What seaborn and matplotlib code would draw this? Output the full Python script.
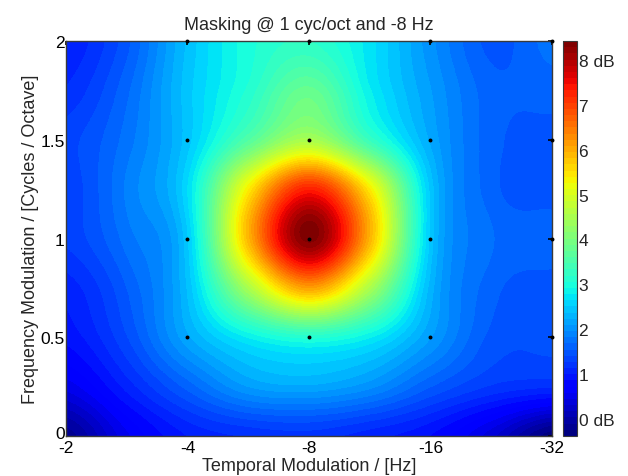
import numpy as np
import pandas as pd
import matplotlib
matplotlib.use('Agg')
import matplotlib.pyplot as plt
import matplotlib.transforms as mtransforms
import seaborn as sns

# Grid of the masking surface
temporal_hz = [-2, -2.83, -4, -5.66, -8, -11.3, -16, -22.6, -32]
freq_cyc = [0, 0.25, 0.5, 0.75, 1, 1.25, 1.5, 1.75, 2]

# masking in dB, one row per freq_cyc value (bottom row first)
masking_db = [
    [-0.2, 0.55, 1.0, 1.15, 1.2, 1.05, 0.85, 0.35, -0.35],
    [0.5, 1.05, 1.6, 2.1, 2.2, 2.0, 1.55, 1.25, 1.15],
    [0.9, 1.4, 2.2, 2.8, 3.1, 2.8, 2.1, 1.5, 1.45],
    [1.05, 1.55, 2.4, 4.5, 6.1, 4.5, 2.3, 1.6, 1.5],
    [1.3, 1.75, 2.5, 5.9, 8.35, 5.9, 2.45, 1.7, 1.6],
    [1.3, 1.85, 2.65, 5.4, 7.3, 5.4, 2.45, 1.6, 1.5],
    [1.35, 1.75, 2.45, 3.6, 4.5, 3.3, 2.2, 1.6, 1.5],
    [1.15, 1.65, 2.45, 3.1, 3.8, 2.8, 2.1, 1.6, 1.6],
    [1.0, 1.5, 2.4, 3.0, 3.2, 2.7, 2.0, 1.5, 1.75],
]

# measured conditions (black dots)
dot_hz = [-4, -8, -16, -32]
dot_cyc = [0.5, 1, 1.5, 2]

tick_hz = [-2, -4, -8, -16, -32]
tick_cyc = [0, 0.5, 1, 1.5, 2]
cbar_ticks = [0, 1, 2, 3, 4, 5, 6, 7, 8]
cbar_labels = ['0 dB', '1', '2', '3', '4', '5', '6', '7', '8 dB']

sns.set_style('white')
plt.rcParams['font.family'] = ['Liberation Sans', 'DejaVu Sans']

fig = plt.figure(figsize=(6.28, 4.77), dpi=100)
ax = fig.add_axes([0.105, 0.0839, 0.774, 0.828])
cax = fig.add_axes([0.8965, 0.0839, 0.0225, 0.828])

# octave axis for temporal modulation
xpos = np.log2(np.abs(temporal_hz))
dx = (xpos[1] - xpos[0]) / 2
dy = (freq_cyc[1] - freq_cyc[0]) / 2

cmap = matplotlib.colormaps['jet'].resampled(64)
im = ax.imshow(np.array(masking_db), origin='lower', aspect='auto',
               extent=[xpos[0] - dx, xpos[-1] + dx, freq_cyc[0] - dy, freq_cyc[-1] + dy],
               cmap=cmap, vmin=-0.38, vmax=8.42,
               interpolation='catrom', interpolation_stage='data')

dots = pd.DataFrame([(np.log2(abs(h)), c) for h in dot_hz for c in dot_cyc],
                    columns=['x', 'y'])
sns.scatterplot(data=dots, x='x', y='y', color='black', s=8, linewidth=0,
                ax=ax, zorder=5, clip_on=False)

fs = 13
tfs = 12.5
ax.set_xlim(xpos[0], xpos[-1])
ax.set_ylim(freq_cyc[0], freq_cyc[-1])
ax.set_xticks(np.log2(np.abs(tick_hz)))
ax.set_xticklabels([str(t) for t in tick_hz], fontsize=tfs)
ax.set_yticks(tick_cyc)
ylabels = ax.set_yticklabels(['0', '0.5', '1', '1.5', '2'], fontsize=tfs)
ax.tick_params(direction='in', length=3, width=1.2, pad=1,
               top=True, right=True, colors='black')
ax.tick_params(axis='x', pad=3)
for s in ax.spines.values():
    s.set_color('#3a3a3a')
    s.set_linewidth(1)

# lift the "0" a little so it sits above "-2" like the original
ylabels[0].set_transform(ylabels[0].get_transform() +
                         mtransforms.ScaledTranslation(0, 3 / 72, fig.dpi_scale_trans))

ax.set_xlabel('Temporal Modulation / [Hz]', fontsize=fs, labelpad=1)
ax.set_ylabel('Frequency Modulation / [Cycles / Octave]', fontsize=fs, labelpad=1)
ax.set_title('Masking @ 1 cyc/oct and -8 Hz', fontsize=fs, pad=9)

cb = fig.colorbar(im, cax=cax)
cb.set_ticks(cbar_ticks)
cb.set_ticklabels(cbar_labels, fontsize=tfs)
cb.ax.tick_params(direction='in', length=3, pad=1)
cb.outline.set_edgecolor('#3a3a3a')

fig.savefig('out.png', dpi=100)
